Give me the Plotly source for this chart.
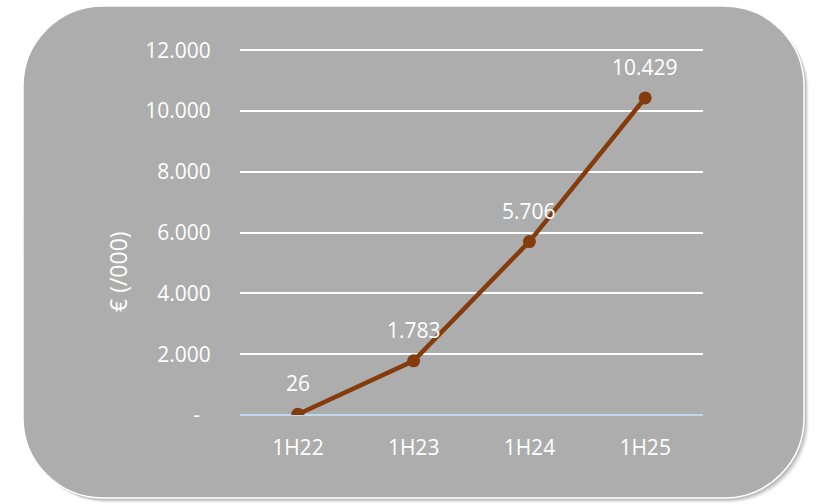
import plotly.graph_objects as go

categories = ["1H22", "1H23", "1H24", "1H25"]
values = [26, 1783, 5706, 10429]
value_labels = ["26", "1.783", "5.706", "10.429"]
tick_vals = [0, 2000, 4000, 6000, 8000, 10000, 12000]
tick_text = ["-\u00a0\u00a0", "2.000", "4.000", "6.000", "8.000", "10.000", "12.000"]
y_title = "€ (/000)"

W, H = 817, 504
L, R, T, B = 240, 114, 49, 89
PW, PH = W - L - R, H - T - B
YMAX = 12040

def px(x):
    return (x - L) / PW

def py(y):
    return (H - B - y) / PH

def rounded_rect(x0, y0, x1, y1, r):
    k = 0.5523 * r
    pts = [
        f"M {px(x0 + r)},{py(y0)}",
        f"L {px(x1 - r)},{py(y0)}",
        f"C {px(x1 - r + k)},{py(y0)} {px(x1)},{py(y0 + r - k)} {px(x1)},{py(y0 + r)}",
        f"L {px(x1)},{py(y1 - r)}",
        f"C {px(x1)},{py(y1 - r + k)} {px(x1 - r + k)},{py(y1)} {px(x1 - r)},{py(y1)}",
        f"L {px(x0 + r)},{py(y1)}",
        f"C {px(x0 + r - k)},{py(y1)} {px(x0)},{py(y1 - r + k)} {px(x0)},{py(y1 - r)}",
        f"L {px(x0)},{py(y0 + r)}",
        f"C {px(x0)},{py(y0 + r - k)} {px(x0 + r - k)},{py(y0)} {px(x0 + r)},{py(y0)}",
        "Z",
    ]
    return " ".join(pts)

FONT = "Open Sans"
fs = 21

fig = go.Figure()
fig.add_trace(go.Scatter(
    x=categories, y=values, mode="lines+markers",
    line=dict(color="#843C0C", width=4.5),
    marker=dict(color="#843C0C", size=13),
    hoverinfo="skip", showlegend=False,
))

shapes = []
for off, col in [(5, "rgba(0,0,0,0.04)"), (4, "rgba(0,0,0,0.06)"), (3, "rgba(0,0,0,0.08)"), (2, "rgba(0,0,0,0.10)")]:
    shapes.append(dict(type="path", xref="paper", yref="paper",
                       path=rounded_rect(23 + off, 6 + off, 804 + off, 498 + off, 80),
                       fillcolor=col, line=dict(width=0), layer="below"))
shapes.append(dict(type="path", xref="paper", yref="paper",
                   path=rounded_rect(23, 6, 804, 498, 80),
                   fillcolor="#ADADAD", line=dict(color="white", width=1.5), layer="below"))

annotations = []
for c, v, t in zip(categories, values, value_labels):
    annotations.append(dict(x=c, y=v, text=t, showarrow=False, xref="x", yref="y",
                            yshift=31, font=dict(color="white", size=fs, family=FONT)))
annotations.append(dict(x=px(118), y=py(272), xref="paper", yref="paper", text=y_title,
                        textangle=-90, showarrow=False, xanchor="center", yanchor="middle",
                        font=dict(color="white", size=fs + 2, family=FONT)))

fig.update_layout(
    width=W, height=H,
    margin=dict(l=L, r=R, t=T, b=B, pad=0),
    paper_bgcolor="white", plot_bgcolor="rgba(0,0,0,0)",
    font=dict(family=FONT, color="white", size=fs),
    shapes=shapes, annotations=annotations,
    xaxis=dict(range=[-0.5, 3.5], showgrid=False, zeroline=False, showline=False,
               ticks="outside", ticklen=14, tickcolor="rgba(0,0,0,0)",
               tickfont=dict(color="white", size=fs, family=FONT), fixedrange=True),
    yaxis=dict(range=[0, YMAX], tickvals=tick_vals, ticktext=tick_text,
               showgrid=True, gridcolor="white", gridwidth=1.5,
               zeroline=True, zerolinecolor="#BDD7EE", zerolinewidth=2,
               showline=False, ticks="outside", ticklen=24, tickcolor="rgba(0,0,0,0)",
               tickfont=dict(color="white", size=fs, family=FONT), fixedrange=True),
)

fig.write_html("out.html", config={"displayModeBar": False},
               post_script="document.body.style.margin='0';")
